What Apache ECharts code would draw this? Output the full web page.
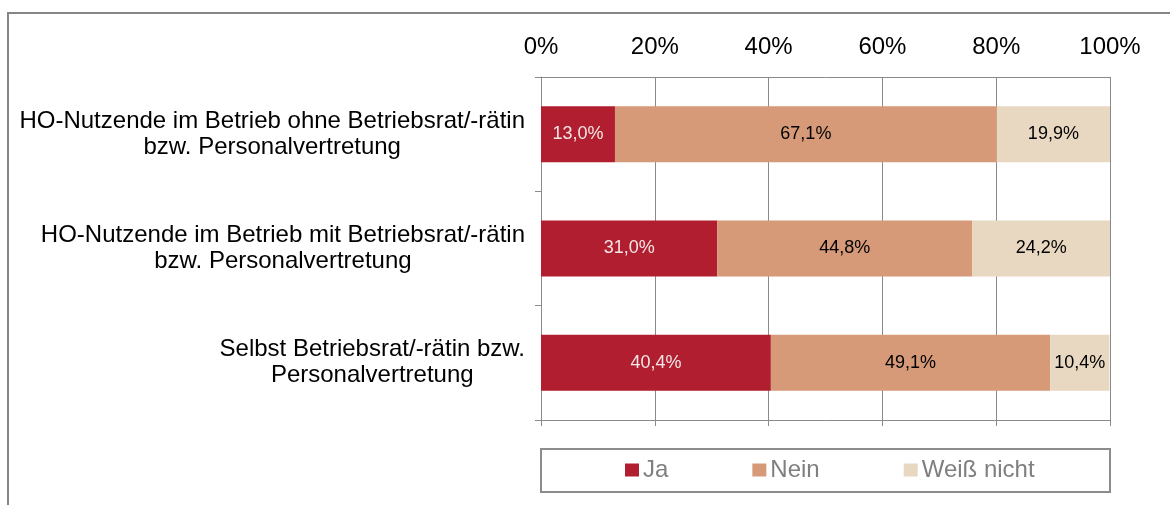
<!DOCTYPE html>
<html>
<head>
<meta charset="utf-8">
<script src="https://cdn.jsdelivr.net/npm/echarts@6/dist/echarts.min.js"></script>
<style>
  html, body { margin: 0; padding: 0; background: #fff; }
  #chart { width: 1170px; height: 505px; }
</style>
</head>
<body>
<div id="chart"></div>
<script>
// data
const categories = [
  'HO-Nutzende im Betrieb ohne Betriebsrat/-rätin\nbzw. Personalvertretung',
  'HO-Nutzende im Betrieb mit Betriebsrat/-rätin\nbzw. Personalvertretung',
  'Selbst Betriebsrat/-rätin bzw.\nPersonalvertretung'
];
const ja = [13.0, 31.0, 40.4];
const nein = [67.1, 44.8, 49.1];
const weissNicht = [19.9, 24.2, 10.4];

const fmt = p => p.value.toFixed(1).replace('.', ',') + '%';
const font = '"Liberation Sans", Arial, sans-serif';
const axisGray = '#8a8a8a';

function bar(name, data, color, labelColor) {
  return {
    name: name,
    type: 'bar',
    stack: 'all',
    data: data,
    barWidth: 56,
    itemStyle: { color: color },
    label: {
      show: true,
      position: 'inside',
      formatter: fmt,
      color: labelColor,
      fontSize: 18,
      fontFamily: font
    }
  };
}

const chart = echarts.init(document.getElementById('chart'));
chart.setOption({
  animation: false,
  textStyle: { fontFamily: font },
  grid: { left: 541, right: 60, top: 77, bottom: 85 },
  graphic: [
    {
      type: 'rect',
      shape: { x: 8, y: 13, width: 1300, height: 600 },
      style: { fill: 'none', stroke: '#868686', lineWidth: 2 }
    },
    {
      type: 'rect',
      shape: { x: 541, y: 449, width: 569, height: 43 },
      style: { fill: 'none', stroke: '#8c8c8c', lineWidth: 2 }
    }
  ],
  legend: {
    left: 625,
    top: 458,
    padding: 0,
    itemWidth: 14,
    itemHeight: 13,
    itemGap: 84,
    icon: 'rect',
    textStyle: { color: '#7f7f7f', fontSize: 24, fontFamily: font, padding: [0, 0, 0, -1] },
    data: ['Ja', 'Nein', 'Weiß nicht']
  },
  xAxis: [
    {
      type: 'value',
      position: 'top',
      min: 0,
      max: 100,
      interval: 20,
      axisLine: { show: true, lineStyle: { color: axisGray, width: 1 } },
      axisTick: { show: false },
      axisLabel: {
        formatter: v => v + '%',
        color: '#000',
        fontSize: 24,
        margin: 18,
        fontFamily: font
      },
      splitLine: { show: true, lineStyle: { color: axisGray, width: 1 } }
    },
    {
      type: 'value',
      position: 'bottom',
      min: 0,
      max: 100,
      interval: 20,
      axisLine: { show: true, lineStyle: { color: axisGray, width: 1 } },
      axisTick: { show: true, length: 6, lineStyle: { color: axisGray } },
      axisLabel: { show: false },
      splitLine: { show: false }
    }
  ],
  yAxis: {
    type: 'category',
    inverse: true,
    data: categories,
    axisLine: { show: true, lineStyle: { color: axisGray, width: 1 } },
    axisTick: { show: true, length: 6, lineStyle: { color: axisGray } },
    axisLabel: {
      margin: 16,
      formatter: v => v.split('\n').map(s => '{c|' + s + '}').join('\n'),
      rich: {
        c: { align: 'center', fontSize: 24, color: '#000', lineHeight: 26, fontFamily: font }
      }
    }
  },
  series: [
    bar('Ja', ja, '#B01E2F', '#f3e6e6'),
    bar('Nein', nein, '#D69A78', '#000'),
    bar('Weiß nicht', weissNicht, '#E8D7C1', '#000')
  ]
});
</script>
</body>
</html>
